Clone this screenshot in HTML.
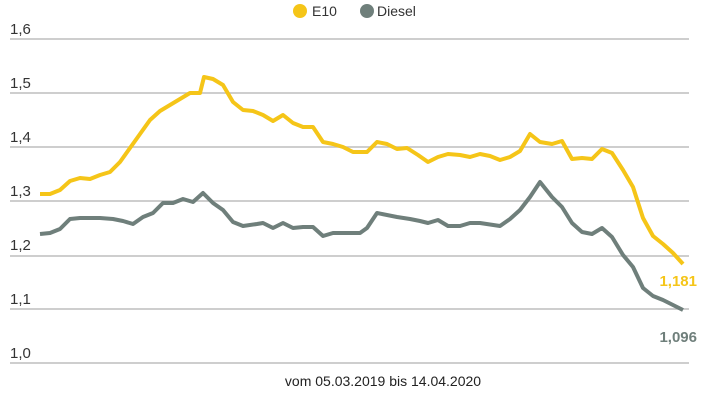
<!DOCTYPE html>
<html><head><meta charset="utf-8"><style>
html,body{margin:0;padding:0;background:#fff;}
svg{display:block;font-family:"Liberation Sans",sans-serif;}
</style></head><body>
<svg width="710" height="400" viewBox="0 0 710 400">
<g stroke="#bdbdbd" stroke-width="1.5">
<line x1="10" y1="39" x2="689" y2="39"/>
<line x1="10" y1="93" x2="689" y2="93"/>
<line x1="10" y1="147" x2="689" y2="147"/>
<line x1="10" y1="201" x2="689" y2="201"/>
<line x1="10" y1="256" x2="689" y2="256"/>
<line x1="10" y1="309" x2="689" y2="309"/>
<line x1="10" y1="363" x2="689" y2="363"/>
</g>
<g font-size="15" fill="#333">
<text x="10" y="34">1,6</text>
<text x="10" y="88">1,5</text>
<text x="10" y="142">1,4</text>
<text x="10" y="196">1,3</text>
<text x="10" y="250">1,2</text>
<text x="10" y="304">1,1</text>
<text x="10" y="358">1,0</text>
</g>
<circle cx="300" cy="11" r="7" fill="#f5c518"/>
<text x="312" y="16" font-size="14" fill="#333">E10</text>
<circle cx="367" cy="11" r="7" fill="#6f7f7b"/>
<text x="377" y="16" font-size="14" fill="#333">Diesel</text>
<polyline fill="none" stroke="#f5c518" stroke-width="4" stroke-linejoin="round" points="40,194 50,194 60,190 70,181 80,178 90,179 100,175 110,172 120,162 130,148 140,134 150,120 160,111 170,105 180,99 190,93 200,93 204,77 213,79 223,85 233,102 243,110 253,111 263,115 273,121 283,115 293,123 303,127 313,127 323,142 333,144 343,147 353,152 360,152 367,152 377,142 387,144 397,149 407,148 418,155 428,162 438,157 448,154 460,155 470,157 480,154 490,156 500,160 510,157 520,151 530,134 540,142 552,144 562,141 572,159 582,158 592,159 602,149 612,153 623,170 633,187 643,218 653,236 663,244 673,253 683,264"/>
<polyline fill="none" stroke="#6f7f7b" stroke-width="4" stroke-linejoin="round" points="40,234 50,233 60,229 70,219 80,218 100,218 113,219 123,221 133,224 143,217 153,213 163,203 173,203 183,199 193,202 203,193 213,203 223,210 233,222 243,226 257,224 263,223 273,228 283,223 293,228 303,227 313,227 323,236 333,233 343,233 353,233 360,233 367,228 377,213 397,217 410,219 420,221 428,223 438,220 448,226 460,226 470,223 480,223 500,226 510,219 520,210 530,197 540,182 552,197 562,207 572,223 582,232 592,234 602,228 612,237 623,255 633,267 643,288 653,296 663,300 673,305 683,310"/>
<text x="697" y="286" font-size="15" font-weight="bold" fill="#f5c518" text-anchor="end">1,181</text>
<text x="697" y="342" font-size="15" font-weight="bold" fill="#6f7f7b" text-anchor="end">1,096</text>
<text x="383" y="386" font-size="14" fill="#222" text-anchor="middle">vom 05.03.2019 bis 14.04.2020</text>
</svg>
</body></html>
